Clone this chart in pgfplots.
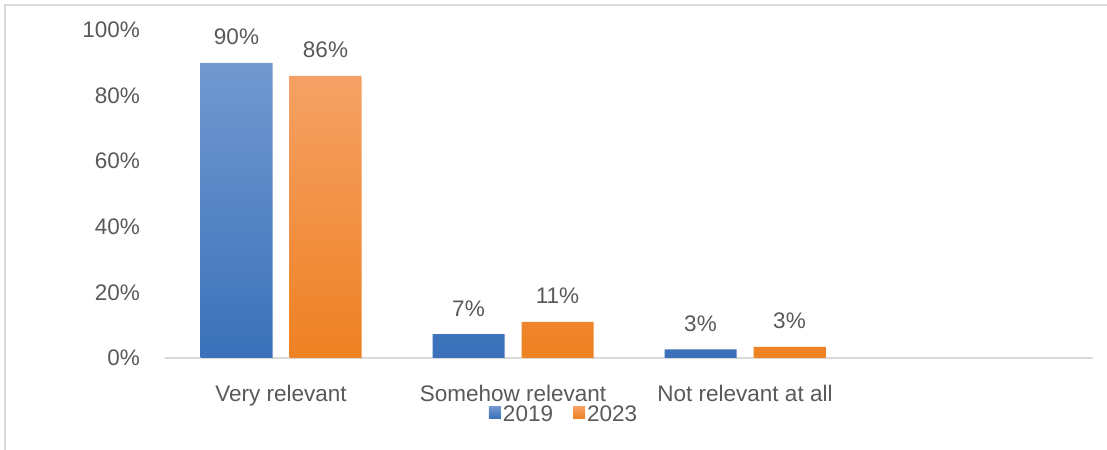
\documentclass[border=0pt]{standalone}
\usepackage{fontspec}
\setmainfont{Liberation Sans}
\usepackage{pgfplots}
\pgfplotsset{compat=1.18}
\definecolor{txt}{HTML}{595959}
\definecolor{axl}{HTML}{D9D9D9}
\definecolor{blueTop}{HTML}{7299D0}
\definecolor{blueBot}{HTML}{3A71B9}
\definecolor{orTop}{HTML}{F5A165}
\definecolor{orBot}{HTML}{EE8122}
\begin{document}
\begin{tikzpicture}
\path[use as bounding box] (0,0) rectangle (1107bp,450bp);
\draw[axl, line width=2bp] (5bp,0) -- (5bp,445bp) -- (1107bp,445bp);
\begin{axis}[
  at={(165bp,92bp)}, anchor=south west,
  scale only axis, width=928bp, height=328bp,
  xmin=-0.5, xmax=3.5, ymin=0, ymax=100,
  axis x line*=bottom, axis y line*=left,
  x axis line style={axl, line width=1.5bp, -},
  y axis line style={draw=none},
  major tick length=0pt,
  ybar=17bp, bar width=72bp,
  xtick={0,1,2}, xticklabels={Very relevant,Somehow relevant,Not relevant at all},
  ytick={0,20,40,60,80,100},
  yticklabels={0\%,20\%,40\%,60\%,80\%,100\%},
  font=\fontsize{22.5bp}{27bp}\selectfont,
  tick label style={text=txt, inner sep=0pt},
  xticklabel style={anchor=base, yshift=-43bp},
  yticklabel style={anchor=east, xshift=-25bp},
  /pgf/number format/assume math mode=true,
  point meta=explicit,
  nodes near coords={\pgfmathprintnumber{\pgfplotspointmeta}\%},
  nodes near coords style={text=txt, anchor=base, inner sep=0pt, yshift=18bp},
  legend style={at={(0.4300,-0.172)}, anchor=center, draw=none, fill=none,
    legend columns=2, text=txt, font=\fontsize{22.5bp}{27bp}\selectfont,
    /tikz/every even column/.append style={column sep=18bp}},
  legend image code/.code={\fill[#1] (0bp,-4bp) rectangle (12bp,8bp);},
]
\addplot[draw=none, top color=blueTop, bottom color=blueBot]
  coordinates {(0,90) [90] (1,7.3) [7] (2,2.6) [3]};
\addplot[draw=none, top color=orTop, bottom color=orBot]
  coordinates {(0,86) [86] (1,11) [11] (2,3.4) [3]};
\legend{2019,2023}
\end{axis}
\end{tikzpicture}
\end{document}
